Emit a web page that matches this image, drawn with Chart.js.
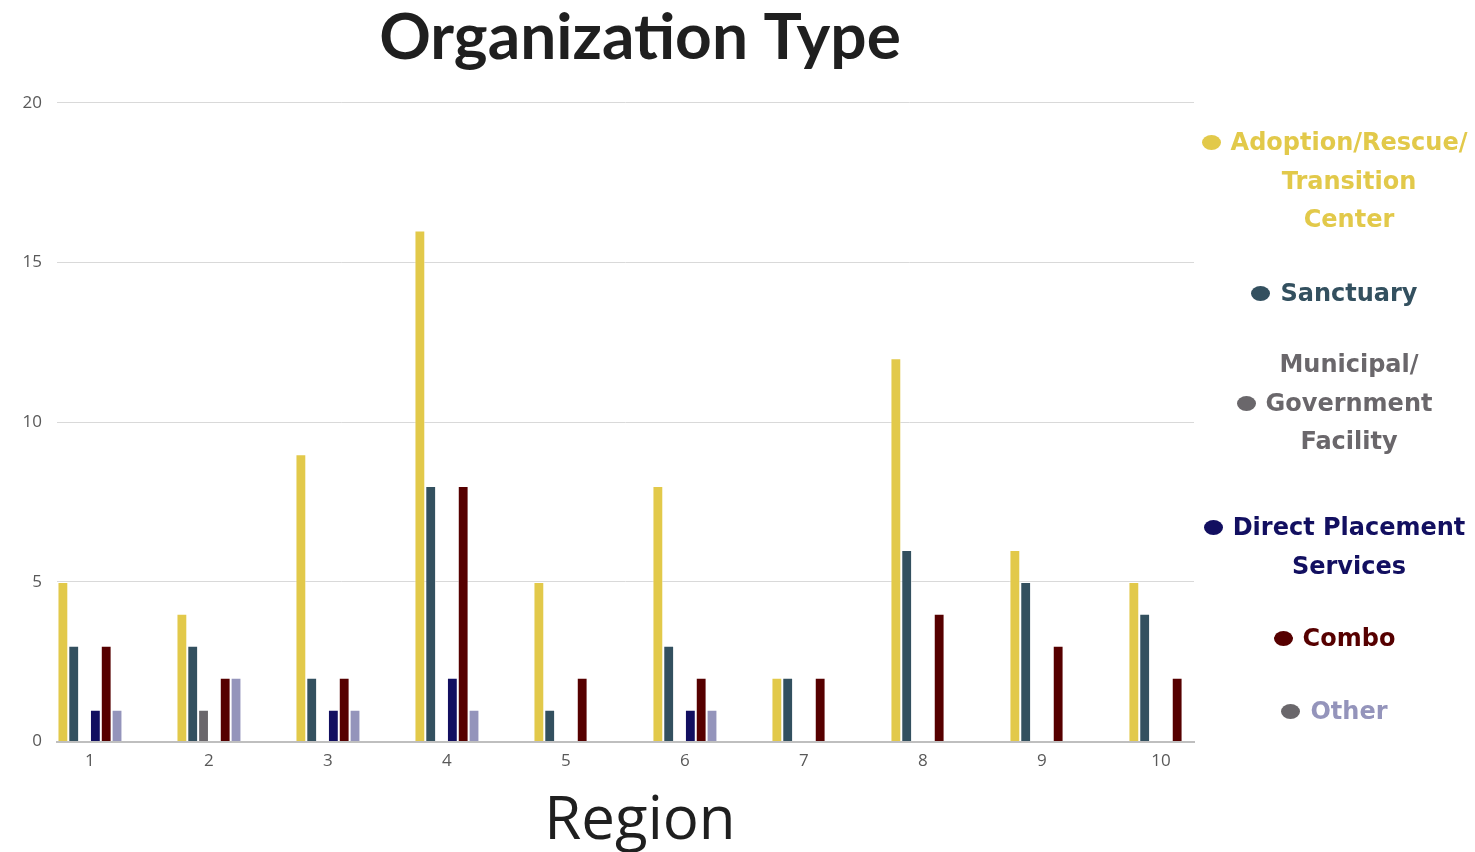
<!DOCTYPE html>
<html>
<head>
<meta charset="utf-8">
<script src="https://cdn.jsdelivr.net/npm/chart.js@4/dist/chart.umd.min.js"></script>
<style>
    body { margin: 0; background: #ffffff; }
    #wrap { position: relative; width: 1475px; height: 852px; overflow: hidden; }
    #chartBox { position: absolute; left: 0; top: 0; width: 1280px; height: 852px; }
    #legend { position: absolute; left: 1225px; top: 0; width: 248px; height: 852px; }
    .item {
        position: absolute; left: 0; width: 100%;
        text-align: center;
        font-family: "DejaVu Sans", sans-serif; font-weight: bold;
        font-size: 24px; line-height: 38.5px;
    }
    .line { position: relative; display: inline-block; white-space: nowrap; }
    .dot {
        position: absolute; left: -29px; top: 12px;
        width: 19px; height: 15px; border-radius: 50%;
    }
</style>
</head>
<body>
<div id="wrap">
    <div id="chartBox"><canvas id="orgChart"></canvas></div>
    <div id="legend"></div>
</div>
<script>
// Regions along the x axis
const regions = [1, 2, 3, 4, 5, 6, 7, 8, 9, 10];
const regionLabels = ["1", "2", "3", "4", "5", "6", "7", "8", "9", "10"];
const yTicks = [0, 5, 10, 15, 20];

// Counts per organization type
const adoption = [5, 4, 9, 16, 5, 8, 2, 12, 6, 5];
const sanctuary = [3, 3, 2, 8, 1, 3, 2, 6, 5, 4];
const municipal = [0, 1, 0, 0, 0, 0, 0, 0, 0, 0];
const directPlacement = [1, 0, 1, 2, 0, 1, 0, 0, 0, 0];
const combo = [3, 2, 2, 8, 2, 2, 2, 4, 3, 2];
const other = [1, 2, 1, 1, 0, 1, 0, 0, 0, 0];

const seriesNames = [
    "Adoption/Rescue/\nTransition\nCenter",
    "Sanctuary",
    "Municipal/\nGovernment\nFacility",
    "Direct Placement\nServices",
    "Combo",
    "Other"
];
const seriesValues = [adoption, sanctuary, municipal, directPlacement, combo, other];

const barColors = ["#E2C94A", "#33505F", "#6A676B", "#120F60", "#560000", "#9494BB"];
const dotColors = ["#E2C94A", "#33505F", "#6A676B", "#120F60", "#560000", "#6A676B"];
const textColors = ["#E2C94A", "#33505F", "#6A676B", "#120F60", "#560000", "#9494BB"];

// legend placement: top of first line, and which line carries the dot
const legendLayout = [
    { top: 123, dotLine: 0 },
    { top: 274, dotLine: 0 },
    { top: 345, dotLine: 1 },
    { top: 508, dotLine: 0 },
    { top: 619, dotLine: 0 },
    { top: 692, dotLine: 0 }
];

/* --------------------------------------------------
   BUILD DATASETS
-------------------------------------------------- */
const datasets = seriesNames.map((name, i) => ({
    label: name,
    data: regions.map((r, j) => ({ x: r, y: seriesValues[i][j] })),
    backgroundColor: barColors[i],
    borderColor: "rgba(255,255,255,0.55)",
    borderWidth: 1,
    barPercentage: 1.0,
    categoryPercentage: 0.546
}));

const ctx = document.getElementById("orgChart");

new Chart(ctx, {
    type: "bar",
    data: { datasets: datasets },
    options: {
        responsive: true,
        maintainAspectRatio: false,
        animation: false,
        layout: { padding: 0 },
        plugins: {
            legend: { display: false },
            tooltip: { enabled: false },
            title: {
                display: true,
                text: "Organization Type",
                color: "#1f1f1f",
                font: { family: "Lato", size: 64, weight: "bold" },
                padding: { top: 0, bottom: 26 }
            },
            subtitle: {
                display: true,
                position: "bottom",
                text: "Region",
                color: "#1f1f1f",
                font: { family: "Open Sans", size: 60, weight: "normal", lineHeight: 1.0 },
                padding: { top: 12, bottom: 0 }
            }
        },
        scales: {
            x: {
                type: "linear",
                offset: false,
                min: 0.723,
                max: 10.278,
                grid: { display: false, drawTicks: false },
                border: { display: true, color: "#bfbfbf", width: 2 },
                ticks: {
                    stepSize: 1,
                    includeBounds: false,
                    autoSkip: false,
                    maxRotation: 0,
                    padding: 9,
                    color: "#595959",
                    font: { family: "Open Sans", size: 17 },
                    callback: v => {
                        const idx = regions.indexOf(v);
                        return idx >= 0 ? regionLabels[idx] : "";
                    }
                }
            },
            y: {
                min: 0,
                max: 20,
                afterBuildTicks: scale => {
                    scale.ticks = yTicks.map(v => ({ value: v }));
                },
                afterFit: scale => { scale.width = 57; },
                grid: { color: "#d9d9d9", lineWidth: 1, drawTicks: false },
                border: { display: false },
                ticks: {
                    padding: 15,
                    color: "#595959",
                    font: { family: "Open Sans", size: 17 }
                }
            },
            // empty right-hand axis, only reserves the room where the legend sits
            spacer: {
                type: "linear",
                position: "right",
                display: true,
                afterFit: scale => { scale.width = 86; },
                grid: { display: false, drawTicks: false },
                border: { display: false },
                ticks: { display: false }
            }
        }
    }
});

/* --------------------------------------------------
   HTML LEGEND
-------------------------------------------------- */
const legend = document.getElementById("legend");
seriesNames.forEach((name, i) => {
    const item = document.createElement("div");
    item.className = "item";
    item.style.top = legendLayout[i].top + "px";
    item.style.color = textColors[i];
    name.split("\n").forEach((txt, k) => {
        const line = document.createElement("span");
        line.className = "line";
        line.textContent = txt;
        if (k === legendLayout[i].dotLine) {
            const dot = document.createElement("span");
            dot.className = "dot";
            dot.style.background = dotColors[i];
            line.appendChild(dot);
        }
        item.appendChild(line);
        item.appendChild(document.createElement("br"));
    });
    legend.appendChild(item);
});
</script>
</body>
</html>
